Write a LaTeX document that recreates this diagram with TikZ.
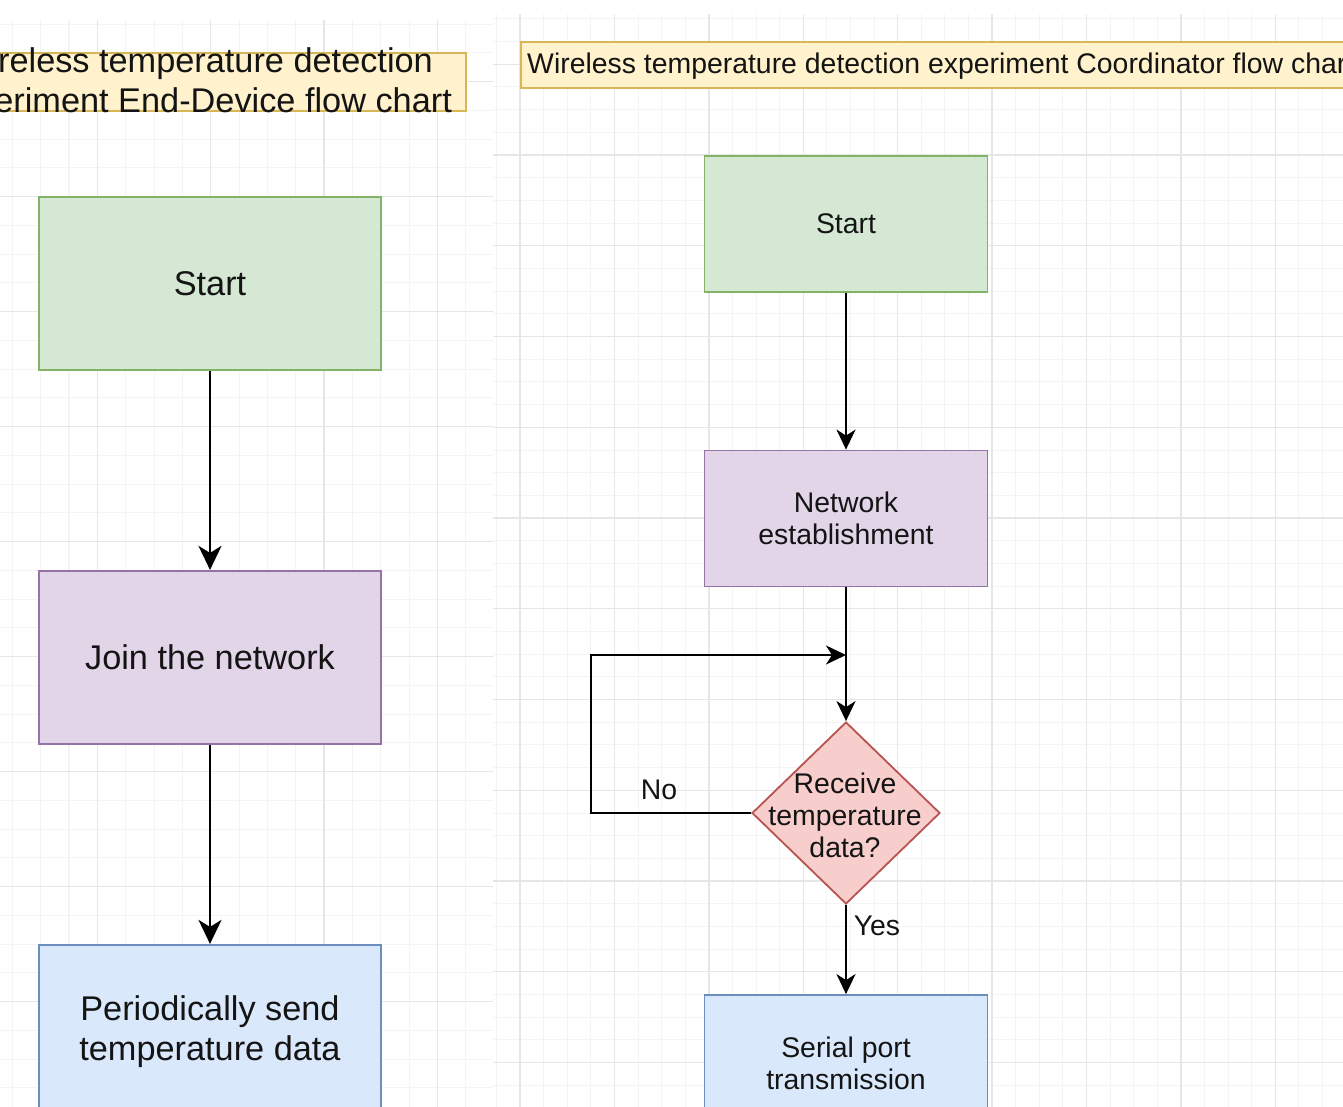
\documentclass[tikz,border=0pt]{standalone}
\usepackage{fontspec}
\setmainfont{Liberation Sans}
\usetikzlibrary{shapes.geometric, arrows.meta}

\definecolor{gfill}{HTML}{D5E8D4} \definecolor{gdraw}{HTML}{82B366}
\definecolor{pfill}{HTML}{E1D5E7} \definecolor{pdraw}{HTML}{9673A6}
\definecolor{bfill}{HTML}{DAE8FC} \definecolor{bdraw}{HTML}{6C8EBF}
\definecolor{rfill}{HTML}{F8CECC} \definecolor{rdraw}{HTML}{B85450}
\definecolor{yfill}{HTML}{FFF2CC} \definecolor{ydraw}{HTML}{D6B656}
\definecolor{gridmin}{HTML}{F4F4F4} \definecolor{gridmaj}{HTML}{E6E6E6}
\definecolor{textc}{HTML}{141414}

\tikzset{
  lbox/.style={draw, line width=2.2pt, minimum width=342pt, minimum height=173pt, inner sep=0pt, align=center, font=\fontsize{34.3}{40}\selectfont, text=textc},
  rbox/.style={draw, line width=1.8pt, minimum width=283pt, minimum height=136pt, inner sep=0pt, align=center, font=\fontsize{28.4}{32}\selectfont, text=textc},
  larrow/.style={line width=2.6pt, -{Stealth[length=24pt, width=23pt, inset=7pt]}},
  rarrow/.style={line width=2.1pt, -{Stealth[length=20pt, width=19pt, inset=6pt]}},
  lbl/.style={font=\fontsize{28.4}{32}\selectfont, text=textc, inner sep=0pt},
  gminor/.style={draw=gridmin, line width=1pt},
  gmajor/.style={draw=gridmaj, line width=1.4pt},
}

\begin{document}
\begin{tikzpicture}[x=1pt, y=-1pt]
\useasboundingbox (0,0) rectangle (1343,1106);
\clip (0,0) rectangle (1343,1106);
\fill[white] (0,0) rectangle (1343,1106);

% left grid
\begin{scope}
  \clip (0,20) rectangle (493,1106);
  \foreach \i in {0,...,19} { \draw[gminor] ({-16+\i*28.333},20) -- ++(0,1090); }
  \foreach \i in {0,...,39} { \draw[gminor] (0,{24.2+\i*28.75}) -- ++(495,0); }
  \foreach \i in {0,...,4} { \draw[gmajor] ({-16+\i*113.33},20) -- ++(0,1090); }
  \foreach \i in {0,...,9} { \draw[gmajor] (0,{81.7+\i*115}) -- ++(495,0); }
\end{scope}

% right grid
\begin{scope}
  \clip (493,14) rectangle (1343,1106);
  \foreach \i in {0,...,37} { \draw[gminor] ({496.4+\i*23.6},14) -- ++(0,1095); }
  \foreach \i in {0,...,48} { \draw[gminor] (493,{18.9+\i*22.69}) -- ++(852,0); }
  \foreach \i in {0,...,9} { \draw[gmajor] ({520+\i*94.4},14) -- ++(0,1095); }
  \foreach \i in {0,...,12} { \draw[gmajor] (493,{64.25+\i*90.75}) -- ++(852,0); }
\end{scope}

% left title
\node[draw=ydraw, fill=yfill, line width=2pt, minimum width=541pt, minimum height=58pt, inner sep=0pt] (ltitle) at (195.5,82) {};
\node[align=center, font=\fontsize{34.3}{40}\selectfont, text=textc, inner sep=0pt] (ltitletext) at (195.5,84) {Wireless temperature detection\\experiment End-Device flow chart};

% right title
\node[draw=ydraw, fill=yfill, line width=1.8pt, minimum width=900pt, minimum height=46pt, inner sep=0pt, anchor=west] (rtitle) at (520,65) {};
\node[anchor=west, font=\fontsize{28.4}{32}\selectfont, text=textc, inner sep=0pt] (rtitletext) at (527,66) {Wireless temperature detection experiment Coordinator flow chart};

% left flow
\node[lbox, draw=gdraw, fill=gfill] (lstart) at (210,283.5) {Start};
\node[lbox, draw=pdraw, fill=pfill] (ljoin) at (210,657.5) {Join the network};
\node[lbox, draw=bdraw, fill=bfill] (lsend) at (210,1031.5) {Periodically send\\temperature data};
\draw[larrow] (lstart) -- (ljoin);
\draw[larrow] (ljoin) -- (lsend);

% right flow
\node[rbox, draw=gdraw, fill=gfill] (rstart) at (846,224) {Start};
\node[rbox, draw=pdraw, fill=pfill] (rnet) at (846,518.5) {Network\\establishment};
\node[diamond, draw=rdraw, fill=rfill, line width=1.8pt, minimum width=188pt, minimum height=182pt, inner sep=0pt] (dec) at (846,813) {};
\node[lbl, align=center] (dectext) at (845,815) {Receive\\temperature\\data?};
\node[rbox, draw=bdraw, fill=bfill] (rserial) at (846,1063) {Serial port\\transmission};
\coordinate (loopc) at (591,655);
\coordinate (joinc) at (846,655);

\draw[rarrow] (rstart) -- (rnet);
\draw[rarrow] (rnet) -- (dec);
\draw[rarrow] (dec.west) -| (loopc) -- (joinc);
\draw[rarrow] (dec) -- (rserial);
\node[lbl] (nolbl) at (659,790) {No};
\node[lbl] (yeslbl) at (877,926) {Yes};
\end{tikzpicture}
\end{document}
